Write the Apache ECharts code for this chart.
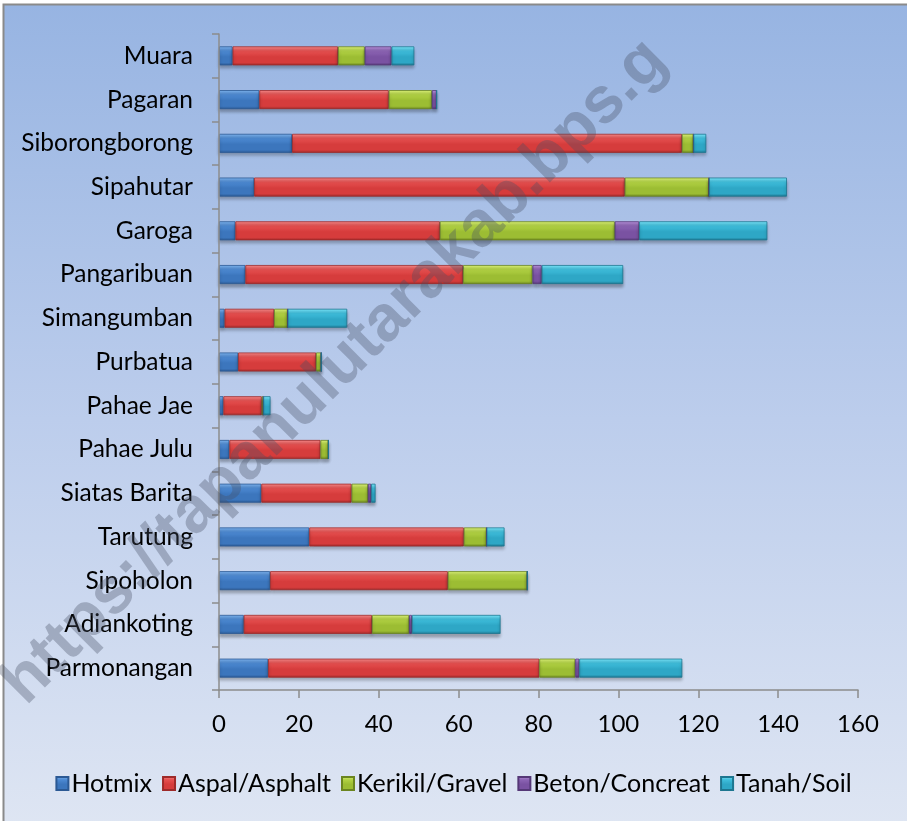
<!DOCTYPE html>
<html>
<head>
<meta charset="utf-8">
<script src="https://cdn.jsdelivr.net/npm/echarts@6/dist/echarts.min.js"></script>
<style>
html,body{margin:0;padding:0;background:#fff;}
#chart{width:907px;height:821px;}
</style>
</head>
<body>
<div id="chart"></div>
<script>
// Categories listed bottom-to-top (category axis starts at bottom)
const categories = ['Parmonangan','Adiankoting','Sipoholon','Tarutung','Siatas Barita','Pahae Julu','Pahae Jae','Purbatua','Simangumban','Pangaribuan','Garoga','Sipahutar','Siborongborong','Pagaran','Muara'];
const seriesNames = ['Hotmix','Aspal/Asphalt','Kerikil/Gravel','Beton/Concreat','Tanah/Soil'];
const hotmix   = [12.3, 6.2, 12.8, 22.6, 10.6, 2.6, 1.1, 4.8, 1.4, 6.6, 4.1, 8.8, 18.3, 10.1, 3.4];
const asphalt  = [67.9, 32.1, 44.5, 38.7, 22.6, 22.8, 9.6, 19.5, 12.4, 54.5, 51.2, 92.8, 97.6, 32.4, 26.4];
const gravel   = [9.0, 9.3, 19.9, 5.7, 4.1, 2.0, 0.4, 1.3, 3.4, 17.4, 43.8, 21.1, 2.9, 10.8, 6.7];
const concrete = [1.0, 0.7, 0, 0, 0.8, 0, 0, 0, 0, 2.3, 6.1, 0, 0, 1.2, 6.7];
const soil     = [25.8, 22.2, 0, 4.5, 1.1, 0, 1.8, 0, 14.9, 20.4, 32.1, 19.5, 3.2, 0, 5.7];
const xTicks = [0, 20, 40, 60, 80, 100, 120, 140, 160];

const palettes = [
  ['#7fb4ee','#4d8ad3','#3c76bd','#2b5994'],
  ['#f58a8a','#e65050','#d63c3c','#9e2a2a'],
  ['#dcf27a','#b2d244','#9cbd33','#6b8520'],
  ['#b892dc','#8c64b4','#7a52a2','#553877'],
  ['#7ce6fa','#3fbedc','#2ea7c6','#1d7690']
];
const seriesData = [hotmix, asphalt, gravel, concrete, soil];

const chart = echarts.init(document.getElementById('chart'), null, {renderer:'canvas'});
const FONT = 'Lato';

const series = seriesNames.map((name, i) => {
  const p = palettes[i];
  return {
    name: name,
    type: 'bar',
    stack: 'total',
    barWidth: 19,
    data: seriesData[i],
    z: 2,
    itemStyle: {
      color: new echarts.graphic.LinearGradient(0, 0, 0, 1, [
        {offset: 0, color: p[0]},
        {offset: 0.25, color: p[1]},
        {offset: 0.55, color: p[2]},
        {offset: 0.85, color: p[2]},
        {offset: 1, color: p[3]}
      ]),
      borderColor: p[3],
      borderWidth: 0.8,
      shadowColor: 'rgba(0,0,0,0.28)',
      shadowBlur: 3,
      shadowOffsetY: 3
    },
    emphasis: {disabled: true}
  };
});

const option = {
  backgroundColor: '#ffffff',
  animation: false,
  textStyle: {fontFamily: FONT},
  graphic: [
    {
      type: 'rect', silent: true, z: -10,
      shape: {x: 3.5, y: 4.5, width: 920, height: 830},
      style: {
        fill: new echarts.graphic.LinearGradient(0, 0, 0, 1, [
          {offset: 0, color: '#97b4e2'},
          {offset: 0.5, color: '#bccdec'},
          {offset: 1, color: '#dfe6f3'}
        ]),
        stroke: '#8a8a8a', lineWidth: 2
      }
    },
    {
      type: 'text', silent: true, z: 100,
      x: 335, y: 372, rotation: 45 * Math.PI / 180,
      style: {
        text: 'https://tapanulutarakab.bps.g',
        fill: 'rgba(70,80,100,0.34)',
        font: 'bold 65px "Liberation Sans", Arial, sans-serif',
        align: 'center', verticalAlign: 'middle'
      }
    }
  ],
  legend: {
    data: seriesNames,
    left: 'center',
    top: 766,
    itemWidth: 12,
    itemHeight: 13,
    itemGap: 10,
    textStyle: {fontFamily: FONT, fontSize: 25, color: '#000', padding: [0, 0, 0, -2]},
    icon: 'rect'
  },
  grid: {left: 219, right: 49, top: 34, bottom: 131, containLabel: false},
  xAxis: {
    type: 'value',
    min: xTicks[0], max: xTicks[xTicks.length - 1], interval: 20,
    axisLine: {show: true, lineStyle: {color: '#8c8c8c', width: 1.5}},
    axisTick: {show: true, length: 8, lineStyle: {color: '#8c8c8c', width: 1.5}},
    axisLabel: {fontFamily: FONT, fontSize: 24, color: '#000', margin: 22},
    splitLine: {show: false},
    z: 5
  },
  yAxis: {
    type: 'category',
    data: categories,
    axisLine: {show: true, lineStyle: {color: '#8c8c8c', width: 1.5}},
    axisTick: {show: true, length: 7, lineStyle: {color: '#8c8c8c', width: 1.5}},
    axisLabel: {fontFamily: FONT, fontSize: 24.5, color: '#000', margin: 26},
    z: 5
  },
  series: series
};
chart.setOption(option);
</script>
</body>
</html>
